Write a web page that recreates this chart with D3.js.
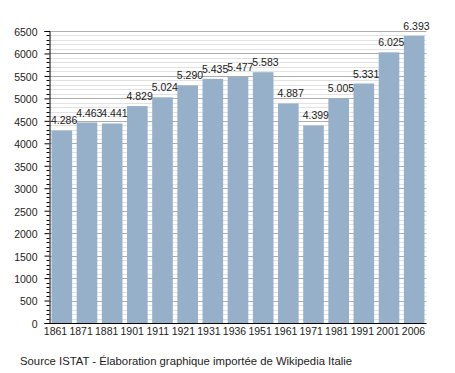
<!DOCTYPE html>
<html><head><meta charset="utf-8">
<script src="https://cdn.jsdelivr.net/npm/d3@7"></script>
<style>body{margin:0;background:#fff}svg{display:block}text{font-family:"Liberation Sans",Arial,sans-serif}</style>
</head><body>
<svg id="c" width="455" height="373"></svg>
<script>
const years = ["1861","1871","1881","1901","1911","1921","1931","1936","1951","1961","1971","1981","1991","2001","2006"];
const population = [4286,4463,4441,4829,5024,5290,5435,5477,5583,4887,4399,5005,5331,6025,6393];
const yMajorTicks = [0,500,1000,1500,2000,2500,3000,3500,4000,4500,5000,5500,6000,6500];
const sourceText = "Source ISTAT - Élaboration graphique importée de Wikipedia Italie";

(function () {
const svg = d3.select("#c");
const pl = 49.5, pr = 426.5, pt = 31, pb = 323;
const x = d3.scaleBand().domain(years).range([pl, pr]).paddingInner(0.18).paddingOuter(0.08);
const xl = d3.scalePoint().domain(years).range([55.5, 413.5]);
const y = d3.scaleLinear().domain([0, 6500]).range([pb, pt]);
const fmt = v => d3.format(",")(v).replace(/,/g, ".");

const minor = d3.range(0, 6501, 100).filter(v => v % 500 !== 0);
svg.append("g").selectAll("line").data(minor).join("line")
  .attr("x1", pl).attr("x2", pr).attr("y1", d => Math.round(y(d)) + 0.5).attr("y2", d => Math.round(y(d)) + 0.5)
  .attr("stroke", "#e2e2e2").attr("stroke-width", 1);
svg.append("g").selectAll("line").data(yMajorTicks.filter(v => v > 0)).join("line")
  .attr("x1", pl).attr("x2", pr).attr("y1", d => Math.round(y(d)) + 0.5).attr("y2", d => Math.round(y(d)) + 0.5)
  .attr("stroke", "#adadad").attr("stroke-width", 1);

svg.append("g").selectAll("rect").data(population).join("rect")
  .attr("x", (d, i) => x(years[i])).attr("width", x.bandwidth())
  .attr("y", d => y(d)).attr("height", d => pb - y(d))
  .attr("fill", "#97b0c9");

svg.append("g").selectAll("text").data(population).join("text")
  .attr("x", (d, i) => x(years[i]) - 0.5).attr("y", d => y(d) - 6)
  .attr("font-size", 10.5).attr("fill", "#222").text(d => fmt(d));

svg.append("g").selectAll("line").data(minor).join("line")
  .attr("x1", pl - 3).attr("x2", pl).attr("y1", d => Math.round(y(d)) + 0.5).attr("y2", d => Math.round(y(d)) + 0.5)
  .attr("stroke", "#000");

const yAxis = d3.axisLeft(y).tickValues(yMajorTicks).tickSize(5).tickPadding(7).tickFormat(d3.format("d"));
const gy = svg.append("g").attr("transform", `translate(${pl},0)`).call(yAxis);
gy.select(".domain").attr("stroke", "#000");
gy.selectAll(".tick text").attr("font-size", 10.5).attr("fill", "#222").attr("dy", "0.42em").attr("font-family", "Liberation Sans, Arial, sans-serif");

svg.append("line").attr("x1", pl).attr("x2", pr).attr("y1", pb + 0.5).attr("y2", pb + 0.5).attr("stroke", "#000");

svg.append("g").selectAll("text").data(years).join("text")
  .attr("x", d => xl(d)).attr("y", pb + 11.5).attr("text-anchor", "middle")
  .attr("font-size", 10.5).attr("fill", "#222").text(d => d);

svg.append("text").attr("x", 20).attr("y", 364.5).attr("font-size", 10.5)
  .attr("textLength", 332).attr("lengthAdjust", "spacingAndGlyphs")
  .attr("fill", "#222").text(sourceText);
})();
</script>
</body></html>
